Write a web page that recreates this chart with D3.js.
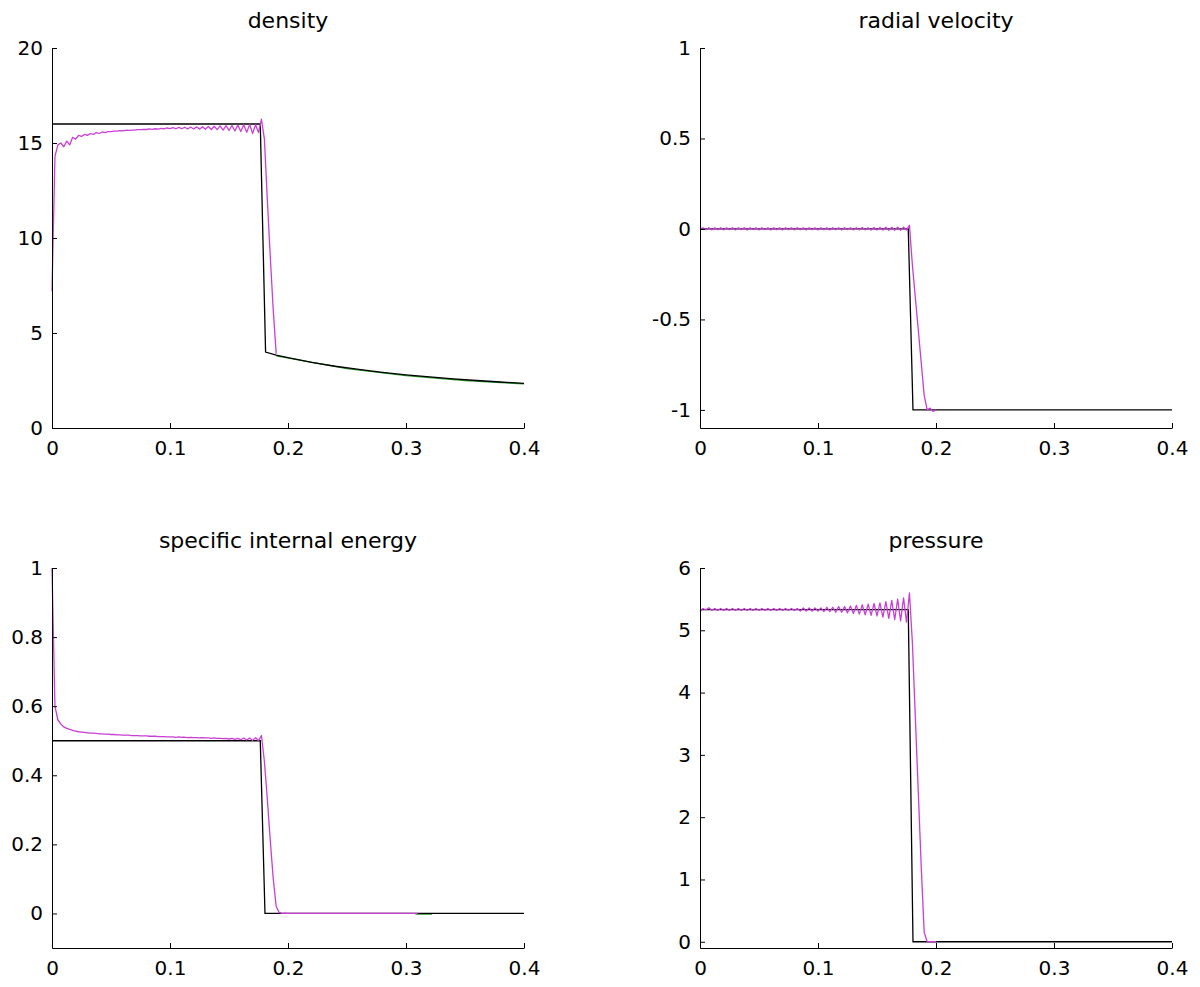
<!DOCTYPE html>
<html>
<head>
<meta charset="utf-8">
<script src="https://cdn.jsdelivr.net/npm/d3@7"></script>
<style>
  body { margin: 0; background: #fff; }
  svg text { font-family: "DejaVu Sans", sans-serif; fill: #000; }
  .tick text { font-size: 20px; }
  .title { font-size: 22px; }
</style>
</head>
<body>
<div id="chart"></div>
<script>

// shared x grid of the numerical run (radius)
var xNum = [
  0, 0.0025, 0.005, 0.0075, 0.01, 0.0125, 0.015, 0.0175, 0.02, 0.0225,
  0.025, 0.0275, 0.03, 0.0325, 0.035, 0.0375, 0.04, 0.0425, 0.045, 0.0475,
  0.05, 0.0525, 0.055, 0.0575, 0.06, 0.0625, 0.065, 0.0675, 0.07, 0.0725,
  0.075, 0.0775, 0.08, 0.0825, 0.085, 0.0875, 0.09, 0.0925, 0.095, 0.0975,
  0.1, 0.1025, 0.105, 0.1075, 0.11, 0.1125, 0.115, 0.1175, 0.12, 0.1225,
  0.125, 0.1275, 0.13, 0.1325, 0.135, 0.1375, 0.14, 0.1425, 0.145, 0.1475,
  0.15, 0.1525, 0.155, 0.1575, 0.16, 0.1625, 0.165, 0.1675, 0.17, 0.1725,
  0.175, 0.1775, 0.18, 0.1825, 0.185, 0.1875, 0.19, 0.1925, 0.195, 0.1975,
  0.2, 0.25, 0.31
];

var densityNum = [
  7.2, 14.3, 14.9, 15.0, 14.8, 15.1, 14.9, 15.3, 15.2, 15.4,
  15.35, 15.45, 15.4, 15.5, 15.45, 15.55, 15.5, 15.58, 15.55, 15.6,
  15.6, 15.63, 15.62, 15.65, 15.64, 15.67, 15.66, 15.68, 15.68, 15.7,
  15.7, 15.72, 15.71, 15.74, 15.72, 15.75, 15.73, 15.77, 15.74, 15.79,
  15.76, 15.81, 15.75, 15.82, 15.75, 15.83, 15.74, 15.84, 15.74, 15.85,
  15.73, 15.86, 15.72, 15.87, 15.71, 15.88, 15.7, 15.9, 15.68, 15.91,
  15.66, 15.92, 15.63, 15.94, 15.6, 15.96, 15.56, 15.98, 15.5, 15.96,
  15.55, 16.25, 15.2, 12.0, 9.0, 6.2, 3.9, null, null, null,
  null, null, null
];

var velocityNum = [
  0.000, 0.006, -0.004, 0.007, -0.005, 0.006, -0.004, 0.007, -0.005, 0.006,
  -0.004, 0.007, -0.005, 0.006, -0.004, 0.006, -0.005, 0.007, -0.004, 0.006,
  -0.005, 0.007, -0.004, 0.006, -0.005, 0.007, -0.004, 0.006, -0.005, 0.007,
  -0.004, 0.006, -0.005, 0.007, -0.004, 0.006, -0.005, 0.007, -0.004, 0.006,
  -0.005, 0.007, -0.004, 0.006, -0.005, 0.007, -0.004, 0.006, -0.005, 0.007,
  -0.004, 0.006, -0.005, 0.007, -0.005, 0.008, -0.005, 0.007, -0.006, 0.008,
  -0.006, 0.008, -0.006, 0.009, -0.007, 0.009, -0.007, 0.010, -0.008, 0.010,
  -0.006, 0.020, -0.200, -0.380, -0.560, -0.740, -0.920, -1.000, -0.990, -1.008,
  -1.000, null, null
];

var energyNum = [
  1.0, 0.6, 0.56, 0.548, 0.54, 0.536, 0.533, 0.53, 0.528, 0.526,
  0.525, 0.524, 0.523, 0.522, 0.522, 0.521, 0.52, 0.52, 0.519, 0.519,
  0.518, 0.518, 0.517, 0.517, 0.516, 0.516, 0.516, 0.515, 0.515, 0.515,
  0.514, 0.514, 0.514, 0.513, 0.513, 0.513, 0.512, 0.512, 0.512, 0.511,
  0.511, 0.511, 0.51, 0.511, 0.51, 0.51, 0.509, 0.51, 0.509, 0.509,
  0.508, 0.509, 0.508, 0.508, 0.507, 0.508, 0.507, 0.507, 0.506, 0.507,
  0.505, 0.507, 0.504, 0.507, 0.503, 0.508, 0.502, 0.508, 0.501, 0.509,
  0.5, 0.515, 0.44, 0.33, 0.21, 0.1, 0.02, 0.003, 0.0, 0.001,
  0.0, 0.0, 0.0
];

var pressureNum = [
  5.30, 5.35, 5.33, 5.36, 5.32, 5.35, 5.32, 5.35, 5.32, 5.35,
  5.32, 5.35, 5.32, 5.35, 5.32, 5.35, 5.32, 5.35, 5.32, 5.35,
  5.32, 5.35, 5.32, 5.35, 5.32, 5.35, 5.32, 5.35, 5.32, 5.35,
  5.32, 5.35, 5.32, 5.35, 5.31, 5.36, 5.31, 5.36, 5.31, 5.36,
  5.31, 5.36, 5.30, 5.37, 5.30, 5.37, 5.29, 5.38, 5.29, 5.38,
  5.28, 5.39, 5.27, 5.40, 5.26, 5.41, 5.25, 5.42, 5.24, 5.43,
  5.23, 5.44, 5.21, 5.46, 5.19, 5.48, 5.17, 5.50, 5.15, 5.52,
  5.13, 5.60, 4.80, 3.60, 2.40, 1.20, 0.15, 0.00, 0.00, 0.00,
  0.00, null, null
];

// exact solution (black)
var densityExactX = [0, 0.1765, 0.181, 0.19, 0.2, 0.22, 0.24, 0.26, 0.28, 0.3, 0.32, 0.34, 0.36, 0.38, 0.4];
var densityExactY = [16, 16, 4.0, 3.84, 3.7, 3.45, 3.25, 3.08, 2.93, 2.8, 2.69, 2.59, 2.5, 2.42, 2.35];
var stepExactX = [0, 0.1765, 0.1805, 0.4];
var velocityExactY = [0, 0, -1, -1];
var energyExactY = [0.5, 0.5, 0, 0];
var pressureExactY = [5.333, 5.333, 0, 0];

// second run (green), mostly hidden under the others
var densityGreenX = [0.19, 0.25, 0.3, 0.35, 0.4];
var densityGreenY = [3.8, 3.12, 2.76, 2.5, 2.32];
var energyGreenX = [0.308, 0.322];
var energyGreenY = [-0.002, -0.002];

// ticks
var xTicks = [0, 0.1, 0.2, 0.3, 0.4];
var densityTicks = [0, 5, 10, 15, 20];
var velocityTicks = [-1, -0.5, 0, 0.5, 1];
var energyTicks = [0, 0.2, 0.4, 0.6, 0.8, 1];
var pressureTicks = [0, 1, 2, 3, 4, 5, 6];

var width = 1200,
    height = 987;

var svg = d3.select("#chart").append("svg")
    .attr("width", width)
    .attr("height", height);

var panels = [
  {title: "density", x0: 52, x1: 524, y0: 48, y1: 428, yDomain: [0, 20], yTicks: densityTicks,
   num: densityNum, exX: densityExactX, exY: densityExactY, grX: densityGreenX, grY: densityGreenY},
  {title: "radial velocity", x0: 700, x1: 1172, y0: 48, y1: 428, yDomain: [-1.1, 1], yTicks: velocityTicks,
   num: velocityNum, exX: stepExactX, exY: velocityExactY},
  {title: "specific internal energy", x0: 52, x1: 524, y0: 568, y1: 948, yDomain: [-0.1, 1], yTicks: energyTicks,
   num: energyNum, exX: stepExactX, exY: energyExactY, grX: energyGreenX, grY: energyGreenY},
  {title: "pressure", x0: 700, x1: 1172, y0: 568, y1: 948, yDomain: [-0.1, 6], yTicks: pressureTicks,
   num: pressureNum, exX: stepExactX, exY: pressureExactY}
];

function fmt(d) { return String(d); }

panels.forEach(function(p) {
  var x = d3.scaleLinear().domain([0, 0.4]).range([p.x0, p.x1]);
  var y = d3.scaleLinear().domain(p.yDomain).range([p.y1, p.y0]);
  var g = svg.append("g");

  var line = d3.line()
      .defined(function(d) { return d[1] !== null; })
      .x(function(d) { return x(d[0]); })
      .y(function(d) { return y(d[1]); });

  // green run first, exact on top of it, numerical last
  if (p.grX) {
    g.append("path")
        .datum(d3.zip(p.grX, p.grY))
        .attr("d", line)
        .attr("fill", "none")
        .attr("stroke", "#2a9a2a")
        .attr("stroke-width", 1.3);
  }

  g.append("path")
      .datum(d3.zip(p.exX, p.exY))
      .attr("d", line)
      .attr("fill", "none")
      .attr("stroke", "#000")
      .attr("stroke-width", 1.3);

  g.append("path")
      .datum(d3.zip(xNum, p.num))
      .attr("d", line)
      .attr("fill", "none")
      .attr("stroke", "#c93fd6")
      .attr("stroke-width", 1.3)
      .attr("stroke-linejoin", "round");

  g.append("g")
      .attr("transform", "translate(0," + p.y1 + ")")
      .call(d3.axisBottom(x).tickValues(xTicks).tickFormat(fmt)
        .tickSizeInner(-5).tickSizeOuter(0).tickPadding(13));

  g.append("g")
      .attr("transform", "translate(" + p.x0 + ",0)")
      .call(d3.axisLeft(y).tickValues(p.yTicks).tickFormat(fmt)
        .tickSizeInner(-5).tickSizeOuter(0).tickPadding(9));

  g.append("text")
      .attr("class", "title")
      .attr("x", (p.x0 + p.x1) / 2)
      .attr("y", p.y0 - 20)
      .attr("text-anchor", "middle")
      .text(p.title);
});

</script>
</body>
</html>
